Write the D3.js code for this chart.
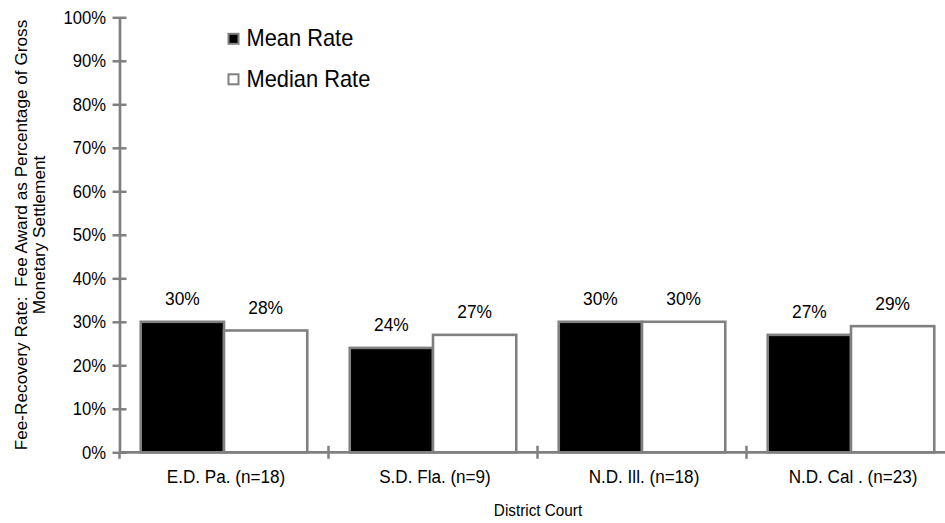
<!DOCTYPE html>
<html><head><meta charset="utf-8">
<script src="https://cdn.jsdelivr.net/npm/d3@7"></script>
<style>
html,body{margin:0;padding:0;background:#fff;}
text{font-family:"Liberation Sans",Arial,sans-serif;fill:#000;white-space:pre;}
</style></head>
<body><svg id="c" width="945" height="523"></svg>
<script>
const categories = ["E.D. Pa. (n=18)", "S.D. Fla. (n=9)", "N.D. Ill. (n=18)", "N.D. Cal . (n=23)"];
const seriesNames = ["Mean Rate", "Median Rate"];
const meanRate = [30, 24, 30, 27];
const medianRate = [28, 27, 30, 29];
const yTicks = [0,10,20,30,40,50,60,70,80,90,100];

const svg = d3.select("#c");
const gray = "#808080";
const y = d3.scaleLinear().domain([0,100]).range([452.3, 17.3]);
const x0 = d3.scaleBand().domain(categories).range([119.5, 955.5]).padding(0);
const x1 = d3.scaleBand().domain(seriesNames).range([0, x0.bandwidth()]).paddingInner(0).paddingOuter(0.255);
const fills = {"Mean Rate":"#000000","Median Rate":"#ffffff"};

function txt(g, s, x, yy, size, sx, anchor){
  return g.append("text").attr("transform",`translate(${x},${yy}) scale(${sx},1)`)
    .attr("font-size",size).attr("text-anchor",anchor||"start").text(s);
}

const data = categories.map((c,i)=>({cat:c, vals:[{k:"Mean Rate",v:meanRate[i]},{k:"Median Rate",v:medianRate[i]}]}));

// bars
const groups = svg.append("g").selectAll("g").data(data).join("g")
  .attr("transform", d=>`translate(${x0(d.cat)},0)`);
groups.selectAll("rect").data(d=>d.vals).join("rect")
  .attr("x", d=>x1(d.k)).attr("width", x1.bandwidth())
  .attr("y", d=>y(d.v)).attr("height", d=>y(0)-y(d.v))
  .attr("fill", d=>fills[d.k]).attr("stroke", gray).attr("stroke-width", 2.6);
groups.each(function(d){
  const g = d3.select(this);
  d.vals.forEach(v=>{
    txt(g, v.v+"%", x1(v.k)+x1.bandwidth()/2, y(v.v)-16.5, 18.5, 0.94, "middle");
  });
});

// y axis
const yAxis = svg.append("g").attr("transform","translate(119.5,0)")
  .call(d3.axisLeft(y).tickValues(yTicks).tickFormat("").tickSize(7).tickSizeOuter(0));
yAxis.select(".domain").attr("stroke",gray).attr("stroke-width",2.7);
yAxis.selectAll(".tick line").attr("stroke",gray).attr("stroke-width",2.5).attr("x2",7).attr("x1",-7);
yTicks.forEach(t=>{
  txt(svg, t+"%", 106, y(t)+6.5, 18.5, 0.9, "end");
});

// x axis
const xAxisG = svg.append("g").attr("transform",`translate(0,${y(0)})`);
xAxisG.append("line").attr("x1",119.5).attr("x2",955).attr("y1",0).attr("y2",0)
  .attr("stroke",gray).attr("stroke-width",2.7);
const bounds = categories.map(c=>x0(c));
xAxisG.selectAll("line.tk").data(bounds).join("line").attr("class","tk")
  .attr("x1",d=>d).attr("x2",d=>d).attr("y1",(d,i)=>i===0?0:-6.5).attr("y2",6.5)
  .attr("stroke",gray).attr("stroke-width",2.5);
categories.forEach(c=>{
  txt(svg, c, x0(c)+x0.bandwidth()/2 + 2, 483, 19, 0.9, "middle");
});

// axis titles
txt(svg, "District Court", 538, 516, 17, 0.9, "middle");
const yt = svg.append("g").attr("transform","translate(0,235) rotate(-90)");
yt.append("text").attr("x",0).attr("y",26.5).attr("font-size",17.2).attr("text-anchor","middle")
  .text("Fee-Recovery Rate:  Fee Award as Percentage of Gross");
yt.append("text").attr("x",0).attr("y",45).attr("font-size",17.2).attr("text-anchor","middle")
  .text("Monetary Settlement");

// legend
const leg = svg.append("g");
const legY = [39, 79.5];
seriesNames.forEach((s,i)=>{
  leg.append("rect").attr("x",228.5).attr("y",legY[i]-5.2).attr("width",10).attr("height",10)
    .attr("fill",fills[s]).attr("stroke",gray).attr("stroke-width",2);
  txt(leg, s, 246.5, legY[i]+7, 23, 0.95, "start");
});
</script></body></html>
